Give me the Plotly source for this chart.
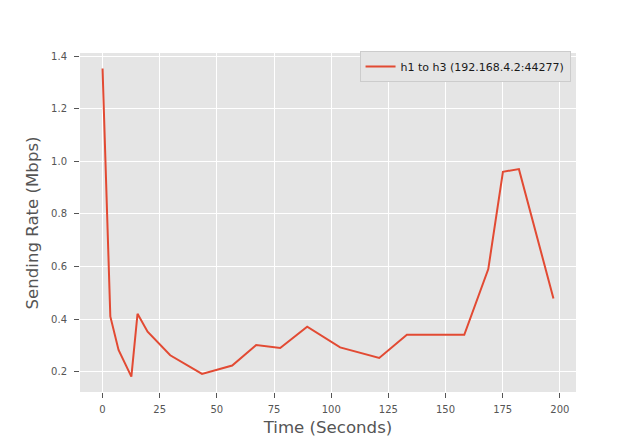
import plotly.graph_objects as go

time_s = [0, 3.4, 7.0, 12.6, 15.3, 19.7, 29.6, 43.5, 56.7, 67.2, 77.7, 89.5,
          103.9, 121.0, 133.1, 158.2, 168.7, 175.1, 182.1, 197.2]
rate_mbps = [1.353, 0.41, 0.282, 0.181, 0.42, 0.352, 0.262, 0.191, 0.223, 0.301,
             0.29, 0.371, 0.292, 0.252, 0.340, 0.340, 0.59, 0.96, 0.97, 0.478]
series_name = "h1 to h3 (192.168.4.2:44277)"
x_ticks = [0, 25, 50, 75, 100, 125, 150, 175, 200]
y_ticks = [0.2, 0.4, 0.6, 0.8, 1.0, 1.2, 1.4]
x_title = "Time (Seconds)"
y_title = "Sending Rate (Mbps)"

font_family = "DejaVu Sans"

fig = go.Figure()
fig.add_trace(go.Scatter(
    x=time_s, y=rate_mbps, mode="lines", name=series_name,
    line=dict(color="#E24A33", width=2),
))

# page body has an 8px margin, so the figure is sized 632x432
fig.update_layout(
    width=632, height=432,
    margin=dict(l=72, r=64, t=45, b=48.4, autoexpand=False),
    paper_bgcolor="white",
    plot_bgcolor="#E5E5E5",
    font=dict(family=font_family, color="#555555", size=10),
    showlegend=True,
    legend=dict(
        x=0.989, y=0.960, xanchor="right", yanchor="middle",
        bgcolor="#E5E5E5", bordercolor="#CCCCCC", borderwidth=1,
        font=dict(family=font_family, size=11, color="#1a1a1a"),
    ),
    xaxis=dict(
        range=[-9.86, 207.06],
        tickvals=x_ticks,
        ticks="outside", ticklen=5, tickwidth=1, tickcolor="#555555",
        tickfont=dict(size=10, color="#555555"), ticklabelstandoff=3,
        showgrid=True, gridcolor="white", gridwidth=1,
        zeroline=False, showline=False, automargin=False,
        title=dict(text=x_title, font=dict(size=16.6, color="#555555"), standoff=7),
    ),
    yaxis=dict(
        range=[0.1224, 1.4116],
        tickvals=y_ticks, tickformat=".1f",
        ticks="outside", ticklen=5, tickwidth=1, tickcolor="#555555",
        tickfont=dict(size=10, color="#555555"), ticklabelstandoff=5,
        showgrid=True, gridcolor="white", gridwidth=1,
        zeroline=False, showline=False, automargin=False,
    ),
    annotations=[dict(
        text=y_title, textangle=-90, showarrow=False,
        xref="paper", yref="paper", x=-0.0948, y=0.5,
        xanchor="center", yanchor="middle",
        font=dict(family=font_family, size=16.6, color="#555555"),
    )],
)

fig.write_html("out.html")
